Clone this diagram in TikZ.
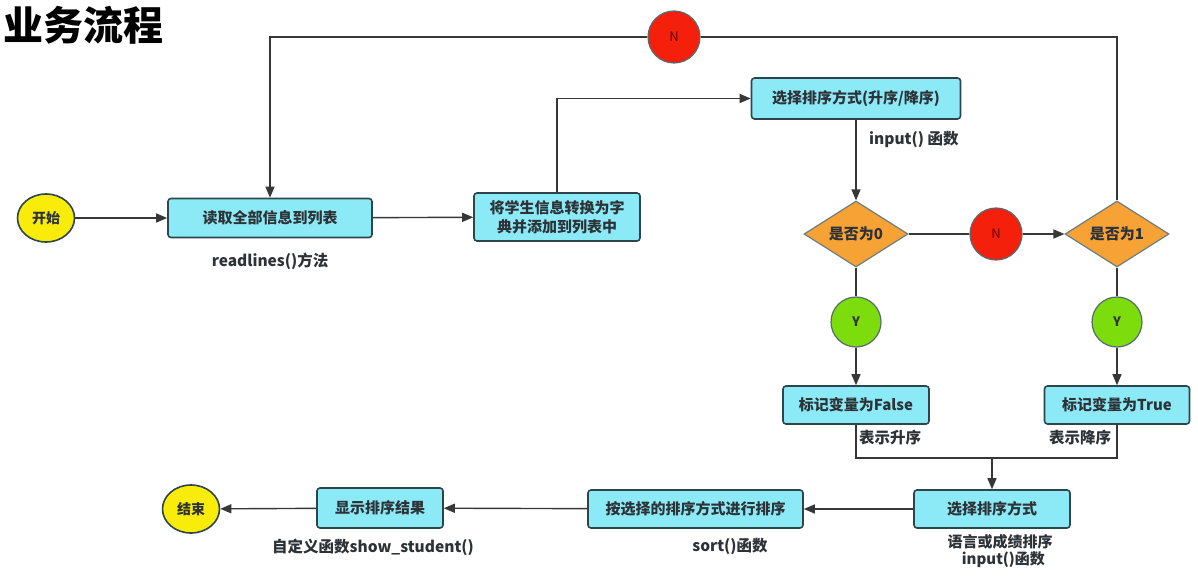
\documentclass[tikz,border=0pt]{standalone}
\usepackage{fontspec}
\setmainfont{Noto Sans CJK SC}
\usetikzlibrary{arrows.meta,shapes.geometric}
\definecolor{boxfill}{RGB}{140,234,247}
\definecolor{boxline}{RGB}{45,70,75}
\definecolor{termfill}{RGB}{250,236,10}
\definecolor{nofill}{RGB}{245,32,12}
\definecolor{decfill}{RGB}{247,162,52}
\definecolor{yesfill}{RGB}{125,220,12}
\definecolor{linec}{RGB}{55,55,55}
\definecolor{txt}{RGB}{45,50,55}
\tikzset{
  procbox/.style={draw=boxline, fill=boxfill, rounded corners=3, line width=1.6, text=txt,
    font=\bfseries\fontsize{15}{19}\selectfont, inner sep=0, align=center},
  termnode/.style={ellipse, draw=boxline, fill=termfill, line width=1.6, text=txt,
    font=\bfseries\fontsize{14}{16}\selectfont, inner sep=0, minimum width=57, minimum height=48},
  decnode/.style={diamond, draw=boxline!70, fill=decfill, line width=1.2, text=txt,
    font=\bfseries\fontsize{15}{18}\selectfont, inner sep=0, shape aspect=1.6,
    minimum width=104, minimum height=66},
  nonode/.style={circle, draw=boxline!80, fill=nofill, line width=1.2, text=red!40!black,
    font=\fontsize{13}{15}\selectfont, inner sep=0, minimum size=52},
  yesnode/.style={circle, draw=boxline!80, fill=yesfill, line width=1.2, text=black!80,
    font=\bfseries\fontsize{13}{15}\selectfont, inner sep=0, minimum size=50},
  lbl/.style={text=txt, font=\bfseries\fontsize{15.5}{19}\selectfont, inner sep=0, align=center},
  conn/.style={draw=linec, line width=1.4},
  arr/.style={conn, -{Triangle[length=11,width=9]}}
}
\begin{document}
\begin{tikzpicture}[x=1pt,y=-1pt]
\useasboundingbox (0,0) rectangle (1198,577);
\fill[white] (0,0) rectangle (1198,577);
\node[anchor=west, inner sep=0, font=\bfseries\fontsize{40}{44}\selectfont, text=black] (title) at (3,25) {业务流程};

\node[termnode] (start) at (46,218) {开始};
\node[procbox, minimum width=204, minimum height=39] (read) at (270,218) {读取全部信息到列表};
\node[procbox, minimum width=166, minimum height=48] (conv) at (557,217) {将学生信息转换为字\\典并添加到列表中};
\node[procbox, minimum width=209, minimum height=41] (choose) at (856,98.5) {选择排序方式(升序/降序)};
\node[decnode] (d0) at (856,234) {是否为0};
\node[nonode] (n1) at (996,234) {N};
\node[decnode] (d1) at (1117,234) {是否为1};
\node[nonode] (ntop) at (674,37) {N};
\node[yesnode] (y0) at (856,322) {Y};
\node[yesnode] (y1) at (1117,322) {Y};
\node[procbox, minimum width=146, minimum height=38] (fbox) at (856,405) {标记变量为False};
\node[procbox, minimum width=145, minimum height=38] (tbox) at (1117,405) {标记变量为True};
\node[procbox, minimum width=156, minimum height=38] (sel) at (992,509) {选择排序方式};
\node[procbox, minimum width=215, minimum height=38] (sortb) at (695.5,509) {按选择的排序方式进行排序};
\node[procbox, minimum width=126, minimum height=40] (show) at (380,508) {显示排序结果};
\node[termnode] (end) at (191,509) {结束};

\node[lbl] (l1) at (270,261) {readlines()方法};
\node[lbl, anchor=west] (l2) at (869,139) {input() 函数};
\node[lbl, anchor=west] (l3) at (859,438) {表示升序};
\node[lbl, anchor=west] (l4) at (1049,438) {表示降序};
\node[lbl, font=\bfseries\fontsize{15}{17.5}\selectfont] (l5) at (1000,551) {语言或成绩排序\\\ \ input()函数};
\node[lbl] (l6) at (730,546) {sort()函数};
\node[lbl] (l7) at (373,547) {自定义函数show\_student()};

\coordinate (m) at (992,458);

\draw[arr] (start) -- (read);
\draw[arr] (read) -- (conv);
\draw[arr] (conv.north) |- (choose.west);
\draw[arr] (choose.south) -- (d0.north);
\draw[conn] (d0.east) -- (n1);
\draw[arr] (n1) -- (d1.west);
\draw[conn] (d0.south) -- (y0);
\draw[arr] (y0) -- (fbox.north);
\draw[conn] (d1.south) -- (y1);
\draw[arr] (y1) -- (tbox.north);
\draw[conn] (d1.north) |- (ntop.east);
\draw[arr] (ntop.west) -| (read.north);
\draw[conn] (fbox.south) |- (m) -| (tbox.south);
\draw[arr] (m) -- (sel.north);
\draw[arr] (sel) -- (sortb);
\draw[arr] (sortb) -- (show);
\draw[arr] (show) -- (end);
\end{tikzpicture}
\end{document}
